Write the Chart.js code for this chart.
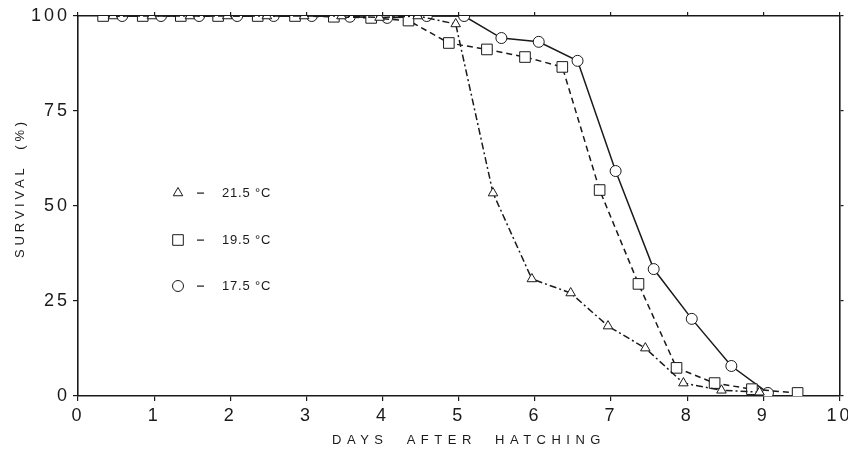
<!DOCTYPE html>
<html>
<head>
<meta charset="utf-8">
<script src="https://cdn.jsdelivr.net/npm/chart.js@4.4.1/dist/chart.umd.min.js"></script>
<style>
  html, body { margin: 0; padding: 0; background: #fff; }
  #chart { display: block; }
</style>
</head>
<body>
<canvas id="chart" width="848" height="455"></canvas>
<script>
// Survival data (days after hatching / survival %)
const days215 = [0.46, 0.97, 1.47, 1.96, 2.48, 2.97, 3.46, 3.96, 4.46, 4.96, 5.45, 5.96, 6.47, 6.96, 7.45, 7.95, 8.45, 8.95];
const surv215 = [100, 100, 100, 100, 100, 100, 100, 99.6, 100, 97.9, 53.4, 30.8, 27.1, 18.4, 12.6, 3.4, 1.5, 1.0];

const days195 = [0.33, 0.85, 1.35, 1.84, 2.36, 2.85, 3.36, 3.85, 4.34, 4.87, 5.37, 5.87, 6.36, 6.85, 7.36, 7.86, 8.36, 8.85, 9.45];
const surv195 = [100, 100, 100, 100, 100, 100, 99.8, 99.5, 98.8, 92.9, 91.2, 89.2, 86.6, 54.2, 29.5, 7.4, 3.4, 1.8, 0.8];

const days175 = [0.58, 1.09, 1.59, 2.09, 2.57, 3.07, 3.57, 4.06, 4.58, 5.07, 5.56, 6.05, 6.56, 7.06, 7.56, 8.06, 8.58, 9.06];
const surv175 = [100, 100, 100, 100, 100, 100, 99.8, 99.5, 100, 100, 94.2, 93.2, 88.2, 59.2, 33.4, 20.3, 7.9, 0.8];

const seriesLabels = ['21.5 °C', '19.5 °C', '17.5 °C'];
const xTicks = [0, 1, 2, 3, 4, 5, 6, 7, 8, 9, 10];
const yTicks = [0, 25, 50, 75, 100];

const ink = '#1a1a1a';
const fontName = "'Liberation Sans', Arial, sans-serif";
const narrowFont = "'Liberation Sans Narrow', 'Liberation Sans', Arial, sans-serif";

function pts(xs, ys) {
  return xs.map((x, i) => ({ x: x, y: ys[i] }));
}

function series(label, xs, ys, style, radius, dash) {
  return {
    label: label,
    data: pts(xs, ys),
    borderColor: ink,
    borderWidth: 1.5,
    borderDash: dash,
    pointStyle: style,
    pointRadius: radius,
    pointHoverRadius: radius,
    pointBorderColor: ink,
    pointBackgroundColor: '#fff',
    pointBorderWidth: 1,
    showLine: true,
    tension: 0
  };
}

// widen the tick labels a little, like the typewriter digits of the original
const spacing = {
  id: 'spacing',
  beforeDraw(chart) {
    chart.ctx.letterSpacing = '3px';
  },
  afterDraw(chart) {
    chart.ctx.letterSpacing = '0px';
  }
};

// axis titles and in-plot key
const annotations = {
  id: 'annotations',
  afterDraw(chart) {
    const ctx = chart.ctx;
    ctx.save();
    ctx.fillStyle = ink;
    ctx.strokeStyle = ink;

    // x title
    ctx.letterSpacing = '5.5px';
    ctx.font = '13px ' + fontName;
    ctx.textAlign = 'center';
    ctx.textBaseline = 'middle';
    ctx.fillText('DAYS  AFTER  HATCHING', 469, 440);

    // y title
    ctx.save();
    ctx.translate(20, 188);
    ctx.rotate(-Math.PI / 2);
    ctx.letterSpacing = '3.8px';
    ctx.fillText('SURVIVAL  (%)', 0, 0);
    ctx.restore();

    // key
    const styles = ['triangle', 'rect', 'circle'];
    const radii = [5.5, 7.5, 5.5];
    const rowY = [193, 240, 286];
    ctx.letterSpacing = '0.8px';
    ctx.font = '13px ' + fontName;
    ctx.textAlign = 'left';
    ctx.lineWidth = 1;
    seriesLabels.forEach((lab, i) => {
      ctx.fillStyle = '#fff';
      Chart.helpers.drawPoint(ctx, {
        pointStyle: styles[i], radius: radii[i], rotation: 0, borderWidth: 1
      }, 178, rowY[i]);
      ctx.fillStyle = ink;
      ctx.fillRect(197, rowY[i] - 0.5, 7, 1.2);
      ctx.fillText(lab, 222, rowY[i]);
    });
    ctx.restore();
  }
};

const tickFont = { family: narrowFont, size: 18 };

new Chart(document.getElementById('chart'), {
  type: 'scatter',
  data: {
    datasets: [
      series(seriesLabels[0], days215, surv215, 'triangle', 5.5, [7, 3, 2, 3]),
      series(seriesLabels[1], days195, surv195, 'rect', 7.5, [6, 4]),
      series(seriesLabels[2], days175, surv175, 'circle', 5.5, [])
    ]
  },
  options: {
    responsive: false,
    animation: false,
    events: [],
    layout: { padding: 0 },
    plugins: {
      legend: { display: false },
      tooltip: { enabled: false }
    },
    scales: {
      x: {
        type: 'linear',
        position: 'bottom',
        min: 0,
        max: 10,
        afterBuildTicks: (s) => { s.ticks = xTicks.map(v => ({ value: v })); },
        afterFit: (s) => { s.height = 59; s.paddingLeft = 0; s.paddingRight = 0; },
        ticks: { color: ink, font: tickFont, padding: 4, maxRotation: 0 },
        grid: { drawOnChartArea: false, tickLength: 5, color: ink, lineWidth: 1.2 },
        border: { display: true, color: ink, width: 1.6 }
      },
      x2: {
        type: 'linear',
        position: 'top',
        min: 0,
        max: 10,
        afterBuildTicks: (s) => { s.ticks = xTicks.map(v => ({ value: v })); },
        afterFit: (s) => { s.height = 16; s.paddingLeft = 0; s.paddingRight = 0; },
        ticks: { display: false },
        grid: { drawOnChartArea: false, tickLength: 4, color: ink, lineWidth: 1.2 },
        border: { display: true, color: ink, width: 1.6 }
      },
      y: {
        position: 'left',
        min: 0,
        max: 100,
        afterBuildTicks: (s) => { s.ticks = yTicks.map(v => ({ value: v })); },
        afterFit: (s) => { s.width = 78; s.paddingTop = 0; s.paddingBottom = 0; },
        ticks: { color: ink, font: tickFont, padding: 3 },
        grid: { drawOnChartArea: false, tickLength: 5, color: ink, lineWidth: 1.2 },
        border: { display: true, color: ink, width: 1.6 }
      },
      y2: {
        position: 'right',
        min: 0,
        max: 100,
        afterBuildTicks: (s) => { s.ticks = yTicks.map(v => ({ value: v })); },
        afterFit: (s) => { s.width = 6; s.paddingTop = 0; s.paddingBottom = 0; },
        ticks: { display: false },
        grid: { drawOnChartArea: false, tickLength: 4, color: ink, lineWidth: 1.2 },
        border: { display: true, color: ink, width: 1.6 }
      }
    }
  },
  plugins: [spacing, annotations]
});
</script>
</body>
</html>
